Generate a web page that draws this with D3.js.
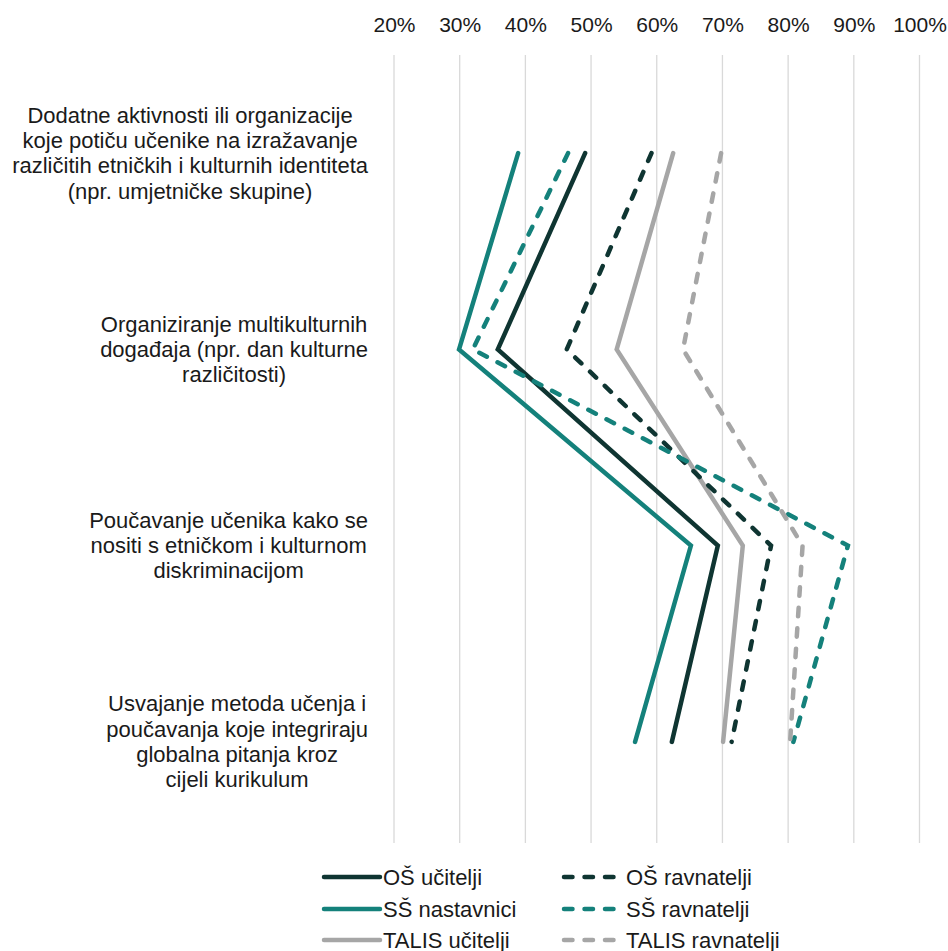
<!DOCTYPE html>
<html>
<head>
<meta charset="utf-8">
<script src="https://cdn.jsdelivr.net/npm/d3@7"></script>
<style>
  html, body { margin: 0; padding: 0; background: #fff; }
  svg text { font-family: "Liberation Sans", Arial, sans-serif; fill: #1a1a1a; }
</style>
</head>
<body>
<svg id="chart" width="948" height="951"></svg>
<script>
// Activities (rows of the chart), each label split into its wrapped lines
const categories = [
  ["Dodatne aktivnosti ili organizacije", "koje potiču učenike na izražavanje", "različitih etničkih i kulturnih identiteta", "(npr. umjetničke skupine)"],
  ["Organiziranje multikulturnih", "događaja (npr. dan kulturne", "različitosti)"],
  ["Poučavanje učenika kako se", "nositi s etničkom i kulturnom", "diskriminacijom"],
  ["Usvajanje metoda učenja i", "poučavanja koje integriraju", "globalna pitanja kroz", "cijeli kurikulum"]
];

// Share (%) per group, one value per activity
const osUcitelji       = [49.1, 35.8, 69.3, 62.3];
const ssNastavnici     = [38.9, 29.9, 65.2, 56.7];
const talisUcitelji    = [62.5, 53.9, 73.1, 70.1];
const osRavnatelji     = [59.2, 46.3, 77.4, 71.4];
const ssRavnatelji     = [46.5, 32.0, 89.1, 80.8];
const talisRavnatelji  = [69.8, 64.0, 82.2, 80.3];

const tickValues = [20, 30, 40, 50, 60, 70, 80, 90, 100];

const DARK = "#0f3532", TEAL = "#14817b", GREY = "#a6a6a6";
const FONT = 22;

const series = [
  { name: "OŠ učitelji",       values: osUcitelji,      color: DARK, dashed: false },
  { name: "SŠ nastavnici",     values: ssNastavnici,    color: TEAL, dashed: false },
  { name: "TALIS učitelji",    values: talisUcitelji,   color: GREY, dashed: false },
  { name: "OŠ ravnatelji",     values: osRavnatelji,    color: DARK, dashed: true },
  { name: "SŠ ravnatelji",     values: ssRavnatelji,    color: TEAL, dashed: true },
  { name: "TALIS ravnatelji",  values: talisRavnatelji, color: GREY, dashed: true }
];

const svg = d3.select("#chart");

const x = d3.scaleLinear().domain([20, 100]).range([394, 919.5]);
const y = d3.scaleBand().domain(d3.range(categories.length)).range([55, 840]);
const yc = i => y(i) + y.bandwidth() / 2;

// Vertical gridlines
svg.append("g")
  .selectAll("line")
  .data(tickValues)
  .join("line")
  .attr("x1", d => x(d)).attr("x2", d => x(d))
  .attr("y1", 55).attr("y2", 843)
  .attr("stroke", "#d9d9d9")
  .attr("stroke-width", 1.3);

// Percentage axis on top
const xAxis = svg.append("g")
  .attr("transform", "translate(0,32)")
  .call(d3.axisTop(x).tickValues(tickValues).tickFormat(d => d + "%").tickSize(0).tickPadding(0));
xAxis.select(".domain").remove();
xAxis.selectAll("text")
  .attr("font-size", 21)
  .attr("fill", "#1a1a1a")
  .style("font-family", '"Liberation Sans", Arial, sans-serif');

// Category labels: wrapped lines centred within a right-aligned block
const labelRight = 368, lineH = 25.3;
categories.forEach((lines, i) => {
  const t = svg.append("text").attr("font-size", FONT).attr("text-anchor", "middle");
  lines.forEach((ln, k) => {
    t.append("tspan")
      .attr("y", yc(i) + (k - (lines.length - 1) / 2) * lineH)
      .attr("dominant-baseline", "central")
      .text(ln);
  });
  const maxW = d3.max(t.selectAll("tspan").nodes(), n => n.getComputedTextLength());
  t.selectAll("tspan").attr("x", labelRight - maxW / 2);
});

// Series lines
const line = d3.line()
  .x(d => x(d))
  .y((d, i) => yc(i));

svg.append("g")
  .selectAll("path")
  .data(series)
  .join("path")
  .attr("d", s => line(s.values))
  .attr("fill", "none")
  .attr("stroke", s => s.color)
  .attr("stroke-width", 4.5)
  .attr("stroke-linecap", "round")
  .attr("stroke-linejoin", "miter")
  .attr("stroke-dasharray", s => s.dashed ? "8.5,12" : null);

// Legend: two columns, three rows
const legendCols = [
  { lx1: 324, lx2: 380, tx: 383 },
  { lx1: 564, lx2: 622, tx: 626 }
];
const legendRows = [877, 909, 940];
const legend = svg.append("g");
series.forEach((s, i) => {
  const col = legendCols[Math.floor(i / 3)];
  const ry = legendRows[i % 3];
  legend.append("line")
    .attr("x1", col.lx1).attr("x2", col.lx2)
    .attr("y1", ry).attr("y2", ry)
    .attr("stroke", s.color)
    .attr("stroke-width", 4.5)
    .attr("stroke-linecap", "round")
    .attr("stroke-dasharray", s.dashed ? "8.5,12" : null);
  legend.append("text")
    .attr("x", col.tx).attr("y", ry)
    .attr("dominant-baseline", "central")
    .attr("font-size", FONT)
    .text(s.name);
});
</script>
</body>
</html>
